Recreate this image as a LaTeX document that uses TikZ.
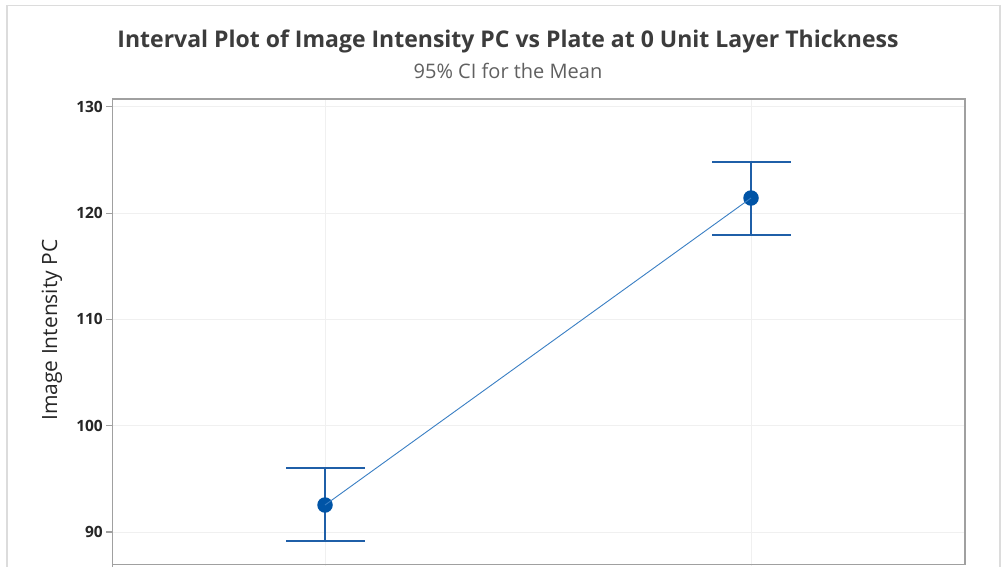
\documentclass[tikz,border=0pt]{standalone}
\usepackage{fontspec}
\setmainfont{Open Sans}
\definecolor{framegray}{HTML}{A0A0A0}
\definecolor{outergray}{HTML}{DCDCDC}
\definecolor{gridgray}{HTML}{F0F0F0}
\definecolor{barblue}{HTML}{1F5FA8}
\definecolor{dotblue}{HTML}{0054A6}
\definecolor{lineblue}{HTML}{3A7FC4}
\definecolor{titlegray}{HTML}{3C3C3C}
\definecolor{subgray}{HTML}{606060}
\begin{document}
\begin{tikzpicture}[x=1pt,y=-1pt,
  grid/.style={draw=gridgray,line width=1pt},
  tickmark/.style={draw=framegray,line width=1.2pt},
  ticklabel/.style={anchor=east,inner sep=0pt,font=\fontsize{15.5}{15.5}\selectfont\bfseries,text=black!85},
  errbar/.style={draw=barblue,line width=1.6pt},
  meanmark/.style={circle,fill=dotblue,inner sep=0pt,minimum size=15.5pt},
  meanline/.style={draw=lineblue,line width=0.9pt}]
\useasboundingbox (0,0) rectangle (1003,566);
\fill[white] (0,0) rectangle (1003,566);
% outer chart frame
\draw[outergray,line width=1.5pt] (7,570) -- (7,5.5) -- (1000,5.5) -- (1000,570);
% titles
\node[font=\fontsize{23}{23}\selectfont\bfseries,text=titlegray,inner sep=0pt] (title) at (508,41) {Interval Plot of Image Intensity PC vs Plate at 0 Unit Layer Thickness};
\node[font=\fontsize{20}{20}\selectfont,text=subgray,inner sep=0pt] (subtitle) at (508,71) {95\% CI for the Mean};
% gridlines
\foreach \yy in {532,425.7,319.4,213.1,106.8} {
  \draw[grid] (113,\yy) -- (964,\yy);
}
\draw[grid] (325,100) -- (325,566);
\draw[grid] (751,100) -- (751,566);
% axis frame
\draw[framegray,line width=1.5pt] (112.5,570) -- (112.5,99) -- (965,99) -- (965,564.5) -- (112.5,564.5);
% y ticks and labels
\foreach \yy/\lab in {532/90,425.7/100,319.4/110,213.1/120,106.8/130} {
  \draw[tickmark] (106,\yy) -- (112.5,\yy);
  \node[ticklabel] at (103,\yy) {\lab};
}
\node[rotate=90,font=\fontsize{21}{21}\selectfont,text=black!85,inner sep=0pt] (ylabel) at (52,330) {Image Intensity PC};
% error bars
\coordinate (u1) at (325,468);
\coordinate (l1) at (325,541);
\coordinate (u2) at (751,162);
\coordinate (l2) at (751,235);
\draw[errbar] (u1) -- (l1);
\draw[errbar] ([xshift=-39pt]u1) -- ([xshift=40pt]u1);
\draw[errbar] ([xshift=-39pt]l1) -- ([xshift=40pt]l1);
\draw[errbar] (u2) -- (l2);
\draw[errbar] ([xshift=-39pt]u2) -- ([xshift=40pt]u2);
\draw[errbar] ([xshift=-39pt]l2) -- ([xshift=40pt]l2);
% means and connecting line
\node[meanmark] (m1) at (325,505) {};
\node[meanmark] (m2) at (751,198) {};
\draw[meanline] (m1.center) -- (m2.center);
\end{tikzpicture}
\end{document}
